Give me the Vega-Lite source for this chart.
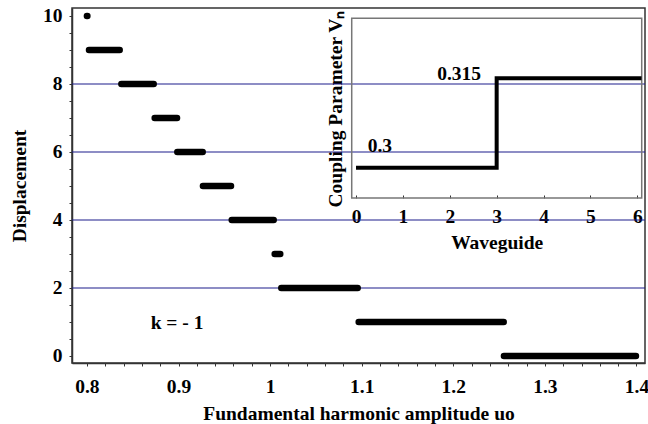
{
  "$schema": "https://vega.github.io/schema/vega-lite/v6.json",
  "width": 573,
  "height": 355,
  "autosize": {"type": "none"},
  "padding": {"left": 72, "top": 8, "right": 3, "bottom": 61},
  "background": "white",
  "config": {
    "view": {"stroke": "#333", "strokeWidth": 1.5},
    "font": "Liberation Serif",
    "axis": {
      "grid": false,
      "ticks": true,
      "labelFont": "Liberation Serif",
      "titleFont": "Liberation Serif",
      "labelFontSize": 19.5,
      "titleFontSize": 19.5,
      "labelFontWeight": "bold",
      "titleFontWeight": "bold",
      "labelColor": "#000",
      "titleColor": "#000",
      "domainColor": "#333",
      "domainWidth": 1.5,
      "tickColor": "#333",
      "tickWidth": 1,
      "labelFlush": false,
      "labelOverlap": false,
      "labelBound": false
    }
  },
  "datasets": {
    "segments": [
      {"u": 0.8, "d": 10, "s": "d10"}, {"u": 0.8005, "d": 10, "s": "d10"},
      {"u": 0.8023, "d": 9, "s": "d9"}, {"u": 0.8358, "d": 9, "s": "d9"},
      {"u": 0.8376, "d": 8, "s": "d8"}, {"u": 0.8729, "d": 8, "s": "d8"},
      {"u": 0.874, "d": 7, "s": "d7"}, {"u": 0.8984, "d": 7, "s": "d7"},
      {"u": 0.8987, "d": 6, "s": "d6"}, {"u": 0.9264, "d": 6, "s": "d6"},
      {"u": 0.9267, "d": 5, "s": "d5"}, {"u": 0.9573, "d": 5, "s": "d5"},
      {"u": 0.9581, "d": 4, "s": "d4"}, {"u": 1.0039, "d": 4, "s": "d4"},
      {"u": 1.005, "d": 3, "s": "d3"}, {"u": 1.0111, "d": 3, "s": "d3"},
      {"u": 1.0122, "d": 2, "s": "d2"}, {"u": 1.0956, "d": 2, "s": "d2"},
      {"u": 1.0967, "d": 1, "s": "d1"}, {"u": 1.255, "d": 1, "s": "d1"},
      {"u": 1.2553, "d": 0, "s": "d0"}, {"u": 1.3994, "d": 0, "s": "d0"}
    ],
    "levels": [{"d": 2}, {"d": 4}, {"d": 6}, {"d": 8}],
    "note": [{"u": 0.8984, "d": 0.979, "t": "k = - 1"}],
    "coupling": [
      {"i": 0, "n": 0, "v": 0.3},
      {"i": 1, "n": 3, "v": 0.3},
      {"i": 2, "n": 3, "v": 0.315},
      {"i": 3, "n": 6.09, "v": 0.315}
    ],
    "frame": [{"n0": -0.0917, "n1": 6.094, "v0": 0.29492, "v1": 0.32507}],
    "vlabels": [
      {"n": 0.51, "v": 0.30367, "t": "0.3"},
      {"n": 2.2, "v": 0.31569, "t": "0.315"}
    ]
  },
  "layer": [
    {
      "data": {"name": "levels"},
      "mark": {"type": "rule", "color": "#1c1c8c", "strokeWidth": 1.2},
      "encoding": {
        "y": {"field": "d", "type": "quantitative", "axis": null,
              "scale": {"domain": [-0.206, 10.235], "nice": false, "zero": false}}
      }
    },
    {
      "data": {"name": "segments"},
      "mark": {"type": "line", "color": "#000", "strokeWidth": 6.5, "strokeCap": "round"},
      "encoding": {
        "x": {"field": "u", "type": "quantitative",
              "scale": {"domain": [0.78373, 1.40928], "nice": false, "zero": false},
              "axis": {
                "orient": "bottom",
                "title": "Fundamental harmonic amplitude uo",
                "titleY": 56.6,
                "titleBaseline": "alphabetic",
                "values": [0.8,0.82,0.84,0.86,0.88,0.9,0.92,0.94,0.96,0.98,1,1.02,1.04,1.06,1.08,1.1,1.12,1.14,1.16,1.18,1.2,1.22,1.24,1.26,1.28,1.3,1.32,1.34,1.36,1.38,1.4],
                "labelExpr": "abs(datum.value*10-round(datum.value*10))<0.001 ? format(datum.value,'~g') : ''",
                "ticks": true,
                "tickColor": "#333",
                "tickWidth": 1,
                "tickSize": 3,
                "labelPadding": 11.5
              }},
        "y": {"field": "d", "type": "quantitative",
              "scale": {"domain": [-0.206, 10.235], "nice": false, "zero": false},
              "axis": {
                "orient": "left",
                "title": "Displacement",
                "titleX": -47,
                "titleY": 177.5,
                "titleAlign": "center",
                "titleBaseline": "alphabetic",
                "values": [0,0.5,1,1.5,2,2.5,3,3.5,4,4.5,5,5.5,6,6.5,7,7.5,8,8.5,9,9.5,10],
                "labelExpr": "datum.value % 2 == 0 ? format(datum.value,'d') : ''",
                "ticks": true,
                "tickColor": "#333",
                "tickWidth": 1,
                "tickSize": 3,
                "labelPadding": 7
              }},
        "detail": {"field": "s", "type": "nominal"}
      }
    },
    {
      "data": {"name": "note"},
      "mark": {"type": "text", "font": "Liberation Serif", "fontSize": 19.5, "fontWeight": "bold", "align": "center", "baseline": "middle", "color": "#000"},
      "encoding": {
        "x": {"field": "u", "type": "quantitative", "axis": null,
              "scale": {"domain": [0.78373, 1.40928], "nice": false, "zero": false}},
        "y": {"field": "d", "type": "quantitative", "axis": null,
              "scale": {"domain": [-0.206, 10.235], "nice": false, "zero": false}},
        "text": {"field": "t", "type": "nominal"}
      }
    },
    {
      "data": {"name": "frame"},
      "mark": {"type": "rect", "fillOpacity": 0, "stroke": "#777", "strokeWidth": 1.5},
      "encoding": {
        "x": {"field": "n0", "type": "quantitative", "axis": null,
              "scale": {"domain": [-6.058, 6.164], "nice": false, "zero": false}},
        "x2": {"field": "n1"},
        "y": {"field": "v0", "type": "quantitative", "axis": null,
              "scale": {"domain": [0.26723, 0.3268], "nice": false, "zero": false}},
        "y2": {"field": "v1"}
      }
    },
    {
      "data": {"name": "coupling"},
      "mark": {"type": "line", "color": "#000", "strokeWidth": 4, "strokeJoin": "miter"},
      "encoding": {
        "x": {"field": "n", "type": "quantitative",
              "scale": {"domain": [-6.058, 6.164], "nice": false, "zero": false},
              "axis": {
                "orient": "bottom",
                "offset": -165,
                "domain": false,
                "values": [0,1,2,3,4,5,6],
                "format": "d",
                "tickSize": -3,
                "labelPadding": 12,
                "title": "Waveguide",
                "titleX": 424.7,
                "titleY": 50,
                "titleAlign": "center",
                "titleBaseline": "alphabetic"
              }},
        "y": {"field": "v", "type": "quantitative",
              "scale": {"domain": [0.26723, 0.3268], "nice": false, "zero": false},
              "axis": {
                "orient": "left",
                "offset": -279.7,
                "domain": false,
                "ticks": false,
                "labels": false,
                "title": "Coupling Parameter Vₙ",
                "titleX": -10.2,
                "titleY": 199,
                "titleAngle": 270,
                "titleAlign": "left",
                "titleBaseline": "alphabetic"
              }},
        "order": {"field": "i", "type": "quantitative"}
      }
    },
    {
      "data": {"name": "vlabels"},
      "mark": {"type": "text", "font": "Liberation Serif", "fontSize": 19.5, "fontWeight": "bold", "align": "center", "baseline": "middle", "color": "#000"},
      "encoding": {
        "x": {"field": "n", "type": "quantitative", "axis": null,
              "scale": {"domain": [-6.058, 6.164], "nice": false, "zero": false}},
        "y": {"field": "v", "type": "quantitative", "axis": null,
              "scale": {"domain": [0.26723, 0.3268], "nice": false, "zero": false}},
        "text": {"field": "t", "type": "nominal"}
      }
    }
  ],
  "resolve": {"scale": {"x": "independent", "y": "independent"}}
}
